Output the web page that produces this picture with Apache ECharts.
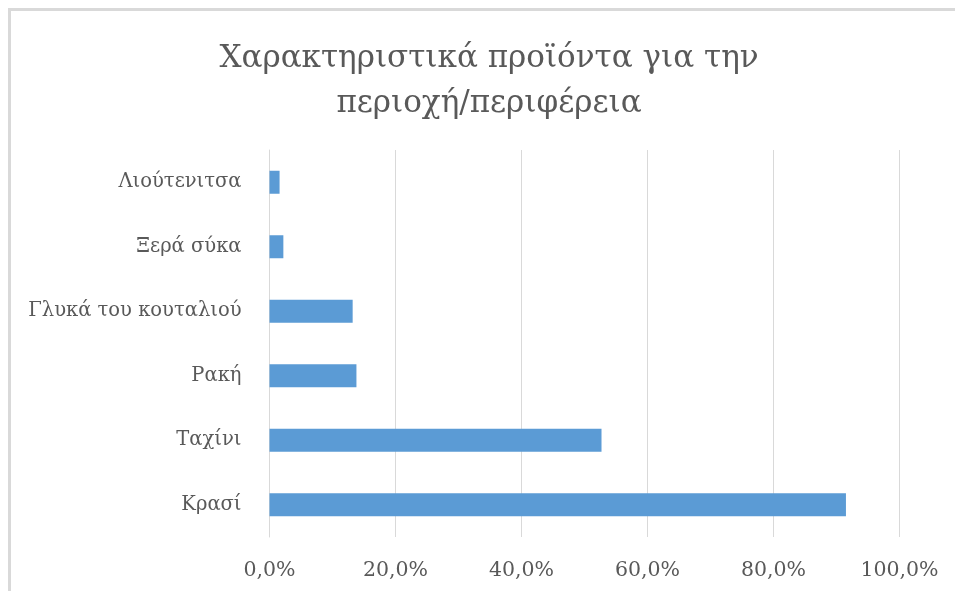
<!DOCTYPE html>
<html>
<head>
<meta charset="utf-8">
<script src="https://cdn.jsdelivr.net/npm/echarts@6/dist/echarts.min.js"></script>
<style>html,body{margin:0;padding:0;background:#fff}#c{width:955px;height:591px}</style>
</head>
<body>
<div id="c"></div>
<script>
var titleText = 'Χαρακτηριστικά προϊόντα για την\nπεριοχή/περιφέρεια';
var categories = ['Κρασί', 'Ταχίνι', 'Ρακή', 'Γλυκά του κουταλιού', 'Ξερά σύκα', 'Λιούτενιτσα'];
var values = [91.5, 52.7, 13.8, 13.2, 2.2, 1.6];
var axisMin = 0, axisMax = 100, axisStep = 20;

var chart = echarts.init(document.getElementById('c'), null, {renderer: 'canvas'});
var font = '"DejaVu Serif", "Liberation Serif", serif';
chart.setOption({
  animation: false,
  backgroundColor: '#ffffff',
  graphic: [{
    type: 'polyline',
    shape: {points: [[9.5, 600], [9.5, 9.5], [960, 9.5]]},
    style: {fill: 'none', stroke: '#d9d9d9', lineWidth: 3},
    silent: true, z: -1
  }],
  title: {
    text: titleText,
    left: 484,
    textAlign: 'center',
    top: 31,
    textStyle: {fontFamily: font, fontSize: 31, fontWeight: 'normal', color: '#595959', lineHeight: 45}
  },
  grid: {left: 269.5, right: 55.5, top: 150, height: 387, containLabel: false},
  xAxis: {
    type: 'value',
    min: axisMin, max: axisMax, interval: axisStep,
    axisLine: {show: false},
    axisTick: {show: false},
    splitLine: {show: true, lineStyle: {color: '#d9d9d9', width: 1}},
    axisLabel: {
      fontFamily: font, fontSize: 20.5, color: '#595959', margin: 23,
      formatter: function (v) { return v.toFixed(1).replace('.', ',') + '%'; }
    }
  },
  yAxis: {
    type: 'category',
    data: categories,
    axisLine: {show: true, lineStyle: {color: '#d9d9d9', width: 1}},
    axisTick: {show: false},
    axisLabel: {fontFamily: font, fontSize: 19.5, color: '#595959', margin: 28}
  },
  series: [{
    type: 'bar',
    data: values,
    barWidth: 23,
    itemStyle: {color: '#5b9bd5'}
  }]
});
</script>
</body>
</html>
